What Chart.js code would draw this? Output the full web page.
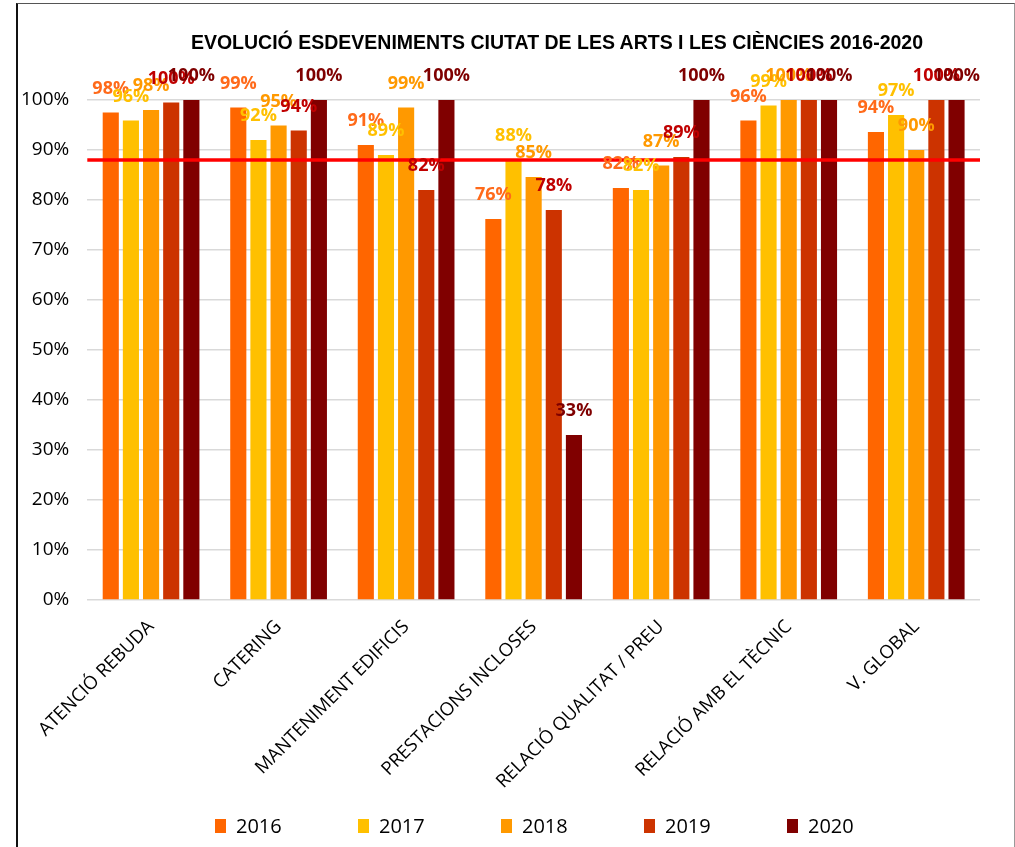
<!DOCTYPE html>
<html>
<head>
<meta charset="utf-8">
<script src="https://cdn.jsdelivr.net/npm/chart.js@4/dist/chart.umd.min.js"></script>
<style>
    html, body { margin: 0; padding: 0; background: #fff; overflow: hidden; }
    #frame {
        position: absolute; left: 16px; top: 3px; width: 996px; height: 900px;
        border-top: 1px solid #555; border-left: 2px solid #111; border-right: 1px solid #999;
    }
    #wrap { position: absolute; left: 0; top: 0; width: 1015px; height: 847px; }
    #title {
        position: absolute; left: 0; top: 31px; width: 1114px; text-align: center;
        font: bold 19.5px "Liberation Sans Narrow", "Liberation Sans", sans-serif; color: #000;
    }
    #legend {
        position: absolute; left: 215px; top: 812px; display: flex;
        font: 20px "Open Sans", sans-serif; color: #000;
    }
    #legend .item { width: 143px; display: flex; align-items: center; }
    #legend .box { width: 11px; height: 14px; margin-right: 10px; }
</style>
</head>
<body>
<div id="frame"></div>
<div id="wrap"><canvas id="evolucioChart"></canvas></div>
<div id="title">EVOLUCIÓ ESDEVENIMENTS CIUTAT DE LES ARTS I LES CIÈNCIES 2016-2020</div>
<div id="legend"></div>
<script>
// Dades (percentatges)
const categories = ['ATENCIÓ REBUDA', 'CATERING', 'MANTENIMENT EDIFICIS', 'PRESTACIONS INCLOSES',
    'RELACIÓ QUALITAT / PREU', 'RELACIÓ AMB EL TÈCNIC', 'V. GLOBAL'];
const years = ['2016', '2017', '2018', '2019', '2020'];
const values2016 = [97.5, 98.5, 91, 76.2, 82.4, 95.9, 93.6];
const values2017 = [95.9, 92, 89, 88, 82, 98.9, 97];
const values2018 = [98, 94.9, 98.5, 84.6, 86.9, 100, 90];
const values2019 = [99.5, 93.9, 82, 78, 88.6, 100, 100];
const values2020 = [100, 100, 100, 33, 100, 100, 100];
const targetLine = 88;

// Colors
const barColors = ['#FF6600', '#FFC000', '#FF9900', '#CC3300', '#800000'];
const labelColors = ['#FF6A1A', '#FFC000', '#FF9900', '#C00000', '#7F0000'];

const seriesValues = [values2016, values2017, values2018, values2019, values2020];

// Red reference line across the plot area
const targetLinePlugin = {
    id: 'targetLine',
    afterDatasetsDraw(chart) {
        const ctx = chart.ctx;
        const y = chart.scales.y.getPixelForValue(targetLine);
        ctx.save();
        ctx.strokeStyle = '#FF0000';
        ctx.lineWidth = 3.5;
        ctx.beginPath();
        ctx.moveTo(chart.chartArea.left, y);
        ctx.lineTo(chart.chartArea.right, y);
        ctx.stroke();
        ctx.restore();
    }
};

// Value labels above each bar
const valueLabelsPlugin = {
    id: 'valueLabels',
    afterDatasetsDraw(chart) {
        const ctx = chart.ctx;
        ctx.save();
        ctx.font = 'bold 18px "Open Sans", sans-serif';
        ctx.textAlign = 'center';
        ctx.textBaseline = 'middle';
        chart.data.datasets.forEach((ds, i) => {
            const meta = chart.getDatasetMeta(i);
            ctx.fillStyle = labelColors[i];
            meta.data.forEach((bar, j) => {
                ctx.fillText(Math.round(ds.data[j]) + '%', bar.x, bar.y - 24);
            });
        });
        ctx.restore();
    }
};

const ctx = document.getElementById('evolucioChart').getContext('2d');
const chart = new Chart(ctx, {
    type: 'bar',
    data: {
        labels: categories,
        datasets: years.map((year, i) => ({
            label: year,
            data: seriesValues[i],
            backgroundColor: barColors[i],
            categoryPercentage: 0.79,
            barPercentage: 0.8
        }))
    },
    options: {
        responsive: true,
        maintainAspectRatio: false,
        animation: false,
        layout: {
            padding: { top: 100, right: 35, bottom: 46, left: 3 }
        },
        plugins: {
            legend: { display: false },
            title: { display: false },
            tooltip: { enabled: false }
        },
        scales: {
            x: {
                grid: { display: false },
                border: { display: false },
                ticks: {
                    minRotation: 45,
                    maxRotation: 45,
                    padding: 8,
                    color: '#000',
                    font: { family: '"Open Sans", sans-serif', size: 18.5 }
                }
            },
            y: {
                min: 0,
                max: 100,
                border: { display: false },
                grid: { color: '#d9d9d9', lineWidth: 1.5, drawTicks: false },
                ticks: {
                    stepSize: 10,
                    padding: 18,
                    color: '#000',
                    font: { family: '"Open Sans", sans-serif', size: 19 },
                    callback: v => v + '%'
                }
            }
        }
    },
    plugins: [targetLinePlugin, valueLabelsPlugin]
});

// HTML legend built from the datasets
const legend = document.getElementById('legend');
chart.data.datasets.forEach(ds => {
    const item = document.createElement('div');
    item.className = 'item';
    item.innerHTML = `<span class="box" style="background:${ds.backgroundColor}"></span><span>${ds.label}</span>`;
    legend.appendChild(item);
});
</script>
</body>
</html>
